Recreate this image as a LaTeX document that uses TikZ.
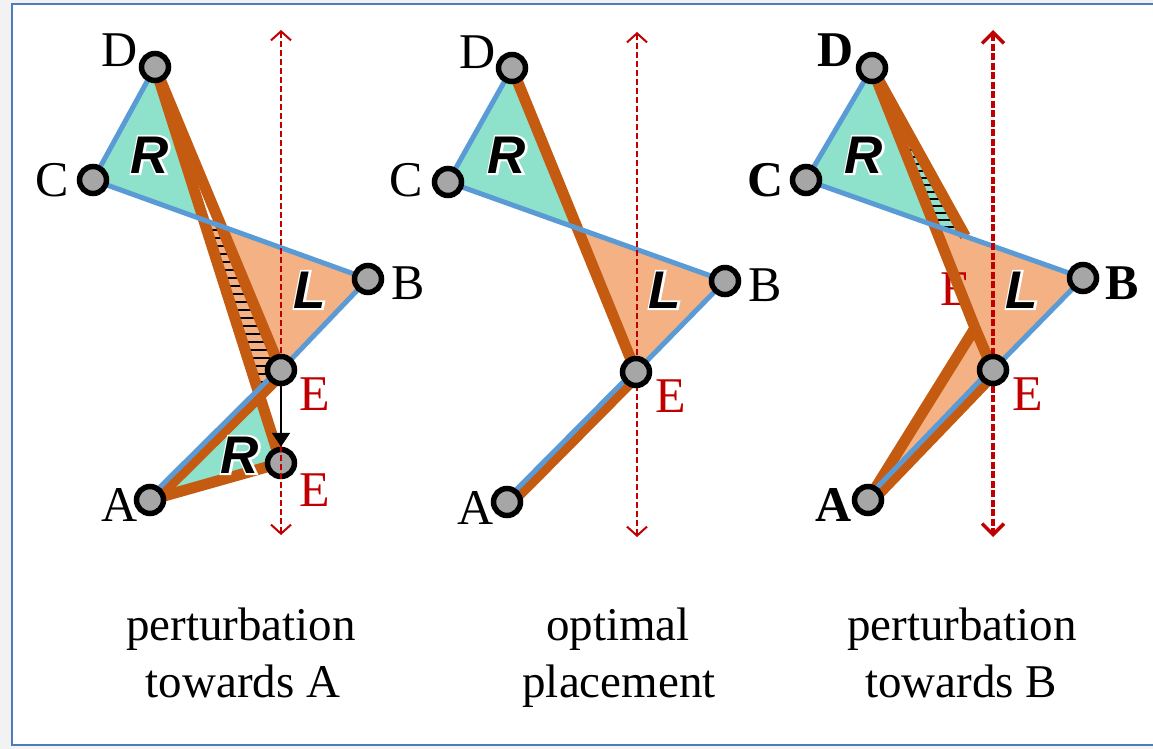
\documentclass[tikz,border=0pt]{standalone}
\usepackage{fontspec}
\setmainfont{Liberation Serif}
\newfontfamily\rlfont{Liberation Sans}
\usetikzlibrary{arrows.meta,calc}
\newcommand{\halotext}[1]{\rlap{\special{pdf:literal direct 1 Tr 1 1 1 RG 4 w}#1\special{pdf:literal direct 0 Tr 0 0 0 RG 1 w}}#1}
\definecolor{bluel}{RGB}{91,155,213}
\definecolor{orl}{RGB}{197,90,17}
\definecolor{cyanf}{RGB}{142,226,203}
\definecolor{orf}{RGB}{244,177,131}
\definecolor{redd}{RGB}{192,0,0}
\definecolor{framec}{RGB}{74,126,187}
\definecolor{bgg}{RGB}{242,242,242}
\definecolor{dotg}{RGB}{166,166,166}
\tikzset{
 blueedge/.style={draw=bluel,line width=5pt,line cap=round,line join=round},
 orangeedge/.style={draw=orl,line width=11pt,line cap=round,line join=round},
 orangebutt/.style={draw=orl,line width=11pt,line cap=butt},
 vdot/.style={circle,draw=black,fill=dotg,line width=5.5pt,minimum size=27pt,inner sep=0pt},
 redarrow/.style={draw=redd,line width=2pt,dash pattern=on 6pt off 3pt,
   {Straight Barb[length=9pt,width=20pt]}-{Straight Barb[length=9pt,width=20pt]}},
 redarrowthick/.style={draw=redd,line width=3.5pt,dash pattern=on 7pt off 2.5pt,
   {Straight Barb[length=11pt,width=22pt]}-{Straight Barb[length=11pt,width=22pt]}},
 blackarrow/.style={draw=black,line width=2pt,-{Triangle[length=14pt,width=18pt]}},
 hatchline/.style={draw=black,line width=1.6pt},
 lab/.style={font=\fontsize{50}{60}\selectfont,inner sep=0pt},
 labb/.style={lab,font=\fontsize{50}{60}\selectfont\bfseries},
 redlab/.style={lab,text=redd},
 reg/.style={font=\rlfont\bfseries\itshape\fontsize{53}{60}\selectfont,inner sep=0pt},
 caption/.style={font=\fontsize{47}{56}\selectfont,inner sep=0pt,anchor=base}
}
\begin{document}
\begin{tikzpicture}[x=1pt,y=-1pt]
\useasboundingbox (0,0) rectangle (1153,749);
\fill[bgg] (0,0) rectangle (1153,749);
\filldraw[fill=white,draw=framec,line width=2.5pt] (12,4) rectangle (1180,745);

% ---------------- panel 1 ----------------
\coordinate (aD) at (155,67);
\coordinate (aC) at (93,180);
\coordinate (aB) at (368,279);
\coordinate (aE) at (281,370);
\coordinate (aF) at (281,463);
\coordinate (aA) at (150,500);
\coordinate (aT) at (281,30);
\coordinate (aU) at (281,535);
\coordinate (aX) at (intersection of aD--aF and aC--aB);
\coordinate (aY) at (intersection of aD--aE and aC--aB);
\coordinate (aZ) at (intersection of aD--aF and aE--aA);
\fill[cyanf] (aD)--(aC)--(aX)--cycle;
\fill[orf] (aX)--(aB)--(aE)--(aZ)--cycle;
\fill[cyanf] (aA)--(aZ)--(aF)--cycle;
\begin{scope}
\clip (aX)--(aY)--(aE)--(aZ)--cycle;
\foreach \yy in {214,222,...,400} \draw[hatchline] (150,\yy)--(320,\yy);
\end{scope}
\draw[orangeedge] (aD)--(aF);
\draw[orangeedge] (aD)--(aE);
\draw[orangeedge] ($(aE)+(2.5,2.5)$)--($(aA)+(2.5,2.5)$);
\draw[orangeedge] (aA)--(aF);
\draw[blueedge] (aD)--(aC)--(aB)--(aE);
\draw[blueedge] ($(aE)+(-1.5,-1.5)$)--($(aA)+(-1.5,-1.5)$);
\node[vdot] (nAF) at (aF) {};
\draw[redarrow] (aT)--(aU);
\node[vdot] (nAD) at (aD) {};
\node[vdot] (nAC) at (aC) {};
\node[vdot] (nAB) at (aB) {};
\node[vdot] (nAE) at (aE) {};
\node[vdot] (nAA) at (aA) {};
\draw[blackarrow] (nAE.south)--(nAF.north);
\node[lab] (lAD) at (120,50) {D};
\node[lab] (lAC) at (52,180) {C};
\node[lab] (lAB) at (408,283) {B};
\node[redlab] (lAE) at (315,394) {E};
\node[redlab] (lAF) at (315,490) {E};
\node[lab] (lAA) at (120,505) {A};
\node[reg] (rA1) at (150,155) {\halotext{R}};
\node[reg] (rA2) at (310,290) {\halotext{L}};
\node[reg] (rA3) at (240,455) {\halotext{R}};

% ---------------- panel 2 ----------------
\coordinate (bD) at (512,68);
\coordinate (bC) at (448,182);
\coordinate (bB) at (725,281);
\coordinate (bE) at (636,372);
\coordinate (bA) at (507,502);
\coordinate (bT) at (637,32);
\coordinate (bU) at (637,537);
\coordinate (bX) at (intersection of bD--bE and bC--bB);
\fill[cyanf] (bD)--(bC)--(bX)--cycle;
\fill[orf] (bX)--(bB)--(bE)--cycle;
\draw[orangeedge] (bD)--(bE);
\draw[orangeedge] ($(bE)+(2.5,2.5)$)--($(bA)+(2.5,2.5)$);
\draw[blueedge] (bD)--(bC)--(bB)--(bE);
\draw[blueedge] ($(bE)+(-1.5,-1.5)$)--($(bA)+(-1.5,-1.5)$);
\draw[redarrow] (bT)--(bU);
\node[vdot] (nBD) at (bD) {};
\node[vdot] (nBC) at (bC) {};
\node[vdot] (nBB) at (bB) {};
\node[vdot] (nBE) at (bE) {};
\node[vdot] (nBA) at (bA) {};
\node[lab] (lBD) at (478,52) {D};
\node[lab] (lBC) at (406,180) {C};
\node[lab] (lBB) at (765,285) {B};
\node[redlab] (lBE) at (671,396) {E};
\node[lab] (lBA) at (476,508) {A};
\node[reg] (rB1) at (507,155) {\halotext{R}};
\node[reg] (rB2) at (665,290) {\halotext{L}};

% ---------------- panel 3 ----------------
\coordinate (cD) at (872,68);
\coordinate (cC) at (806,180);
\coordinate (cB) at (1083,278);
\coordinate (cE) at (993,370);
\coordinate (cA) at (868,500);
\coordinate (cK) at (975,328);
\coordinate (cP) at ($(cC)!0.575!(cB)$);
\coordinate (cT) at (993,30);
\coordinate (cU) at (993,537);
\coordinate (cX) at (intersection of cD--cK and cC--cB);
\fill[cyanf] (cD)--(cC)--(cP)--cycle;
\fill[orf] (cX)--(cB)--(cE)--(cA)--(cK)--cycle;
\begin{scope}
\clip (cD)--(cX)--(cP)--cycle;
\foreach \yy in {150,157,...,240} \draw[hatchline] (880,\yy)--(990,\yy);
\end{scope}
\node[redlab] (lCE2) at (956,289) {E};
\draw[orangebutt] (cD)--(cP);
\draw[orangeedge] (cD)--(cK)--(cE);
\draw[orangeedge] (cK)--(cA);
\draw[orangeedge] ($(cE)+(2.5,2.5)$)--($(cA)+(2.5,2.5)$);
\draw[blueedge] (cD)--(cC)--(cB)--(cE);
\draw[blueedge] ($(cE)+(-1.5,-1.5)$)--($(cA)+(-1.5,-1.5)$);
\draw[redarrowthick] (cT)--(cU);
\node[vdot] (nCD) at (cD) {};
\node[vdot] (nCC) at (cC) {};
\node[vdot] (nCB) at (cB) {};
\node[vdot] (nCE) at (cE) {};
\node[vdot] (nCA) at (cA) {};
\node[labb] (lCD) at (836,50) {D};
\node[labb] (lCC) at (766,180) {C};
\node[labb] (lCB) at (1122,283) {B};
\node[redlab] (lCE) at (1028,394) {E};
\node[labb] (lCA) at (834,505) {A};
\node[reg] (rC1) at (864,155) {\halotext{R}};
\node[reg] (rC2) at (1022,290) {\halotext{L}};

% ---------------- captions ----------------
\node[caption] (t1a) at (241,640) {perturbation};
\node[caption] (t1b) at (243,697) {towards A};
\node[caption] (t2a) at (618,640) {optimal};
\node[caption] (t2b) at (619,697) {placement};
\node[caption] (t3a) at (962,640) {perturbation};
\node[caption] (t3b) at (961,697) {towards B};
\end{tikzpicture}
\end{document}
